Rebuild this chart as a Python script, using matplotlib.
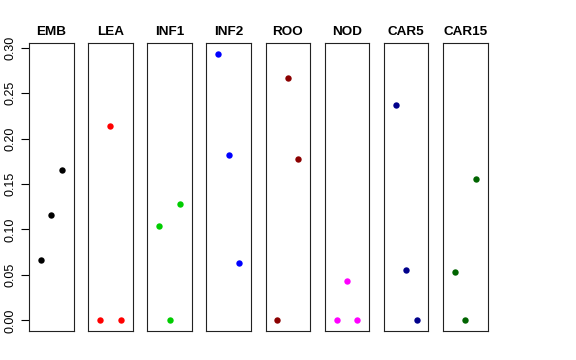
import numpy as np
import matplotlib
matplotlib.use("Agg")
import matplotlib.pyplot as plt

plt.rcParams['font.family'] = ['Liberation Sans', 'DejaVu Sans']

tissues = ["EMB", "LEA", "INF1", "INF2", "ROO", "NOD", "CAR5", "CAR15"]
colors = ["#000000", "#FF0000", "#00CD00", "#0000FF",
          "#8B0000", "#FF00FF", "#00008B", "#006400"]

# three values per panel, drawn at x = 1, 2, 3
emb = [0.066, 0.116, 0.165]
lea = [0.0, 0.214, 0.0]
inf1 = [0.104, 0.0, 0.128]
inf2 = [0.293, 0.182, 0.063]
roo = [0.0, 0.267, 0.177]
nod = [0.0, 0.043, 0.0]
car5 = [0.237, 0.055, 0.0]
car15 = [0.053, 0.0, 0.156]
values = [emb, lea, inf1, inf2, roo, nod, car5, car15]

yticks = [0.00, 0.05, 0.10, 0.15, 0.20, 0.25, 0.30]

W, H = 576, 360
fig = plt.figure(figsize=(W / 100, H / 100), dpi=100)

ymax = max(max(v) for v in values)
pad = ymax * 0.04
x = np.arange(1, 4)

for i, (name, col, vals) in enumerate(zip(tissues, colors, values)):
    left = 29 + i * 59.15
    ax = fig.add_axes([left / W, 1 - 331 / H, 44.5 / W, 287.7 / H])
    ax.plot(x, vals, 'o', color=col, markersize=4.6, markeredgewidth=0)
    ax.set_xlim(-0.12, 4.12)
    ax.set_ylim(-pad, ymax + pad)
    ax.set_xticks([])
    for s in ax.spines.values():
        s.set_linewidth(0.8)
        s.set_color("#222222")
    ax.set_title(name, fontweight='bold', fontsize=9.7, pad=6.3)
    if i == 0:
        ax.set_yticks(yticks)
        ax.set_yticklabels([f"{t:.2f}" for t in yticks], rotation=90,
                           va='center', fontsize=9)
        ax.tick_params(axis='y', length=5.5, width=0.8, pad=3.5)
    else:
        ax.set_yticks([])

fig.savefig("out.png", dpi=100)
